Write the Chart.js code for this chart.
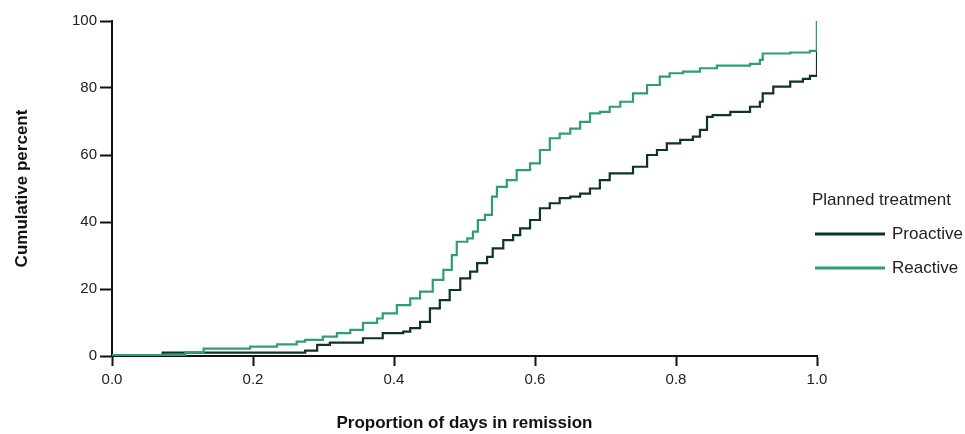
<!DOCTYPE html>
<html>
<head>
<meta charset="utf-8">
<script src="https://cdn.jsdelivr.net/npm/chart.js@4.4.1/dist/chart.umd.min.js"></script>
<style>
html, body { margin: 0; padding: 0; background: #fff; }
#wrap { width: 965px; height: 434px; position: relative; }
</style>
</head>
<body>
<div id="wrap"><canvas id="cdf_chart"></canvas></div>
<script>
// proportion of days in remission (x) vs cumulative percent (y)
const proactiveX = [0, 0.072, 0.274, 0.291, 0.309, 0.356, 0.384, 0.413, 0.423, 0.437, 0.451, 0.465, 0.479,
    0.494, 0.508, 0.518, 0.532, 0.540, 0.555, 0.569, 0.579, 0.593, 0.607, 0.621, 0.635, 0.650, 0.664,
    0.678, 0.692, 0.706, 0.739, 0.759, 0.773, 0.787, 0.806, 0.824, 0.834, 0.844, 0.852, 0.877, 0.905,
    0.919, 0.923, 0.938, 0.962, 0.980, 0.990, 1.000, 1.000];
const proactiveY = [0.3, 1.0, 1.6, 3.3, 4.0, 5.3, 6.8, 7.3, 8.3, 10.2, 14.2, 16.7, 19.7,
    23.2, 25.2, 27.7, 29.6, 32.1, 34.6, 36.1, 38.1, 40.6, 44.1, 45.6, 47.1, 47.6, 48.5,
    50.0, 52.5, 54.5, 56.5, 60.0, 61.5, 63.5, 64.5, 65.5, 67.5, 71.4, 71.9, 72.9, 74.4,
    75.9, 78.4, 80.4, 81.9, 82.7, 83.6, 83.9, 100];

const reactiveX = [0, 0.104, 0.130, 0.196, 0.234, 0.262, 0.274, 0.299, 0.319, 0.338, 0.356, 0.376, 0.384,
    0.404, 0.423, 0.437, 0.455, 0.470, 0.482, 0.489, 0.504, 0.512, 0.519, 0.529, 0.539, 0.546, 0.560,
    0.574, 0.593, 0.607, 0.621, 0.635, 0.650, 0.664, 0.678, 0.692, 0.706, 0.721, 0.739, 0.759, 0.777,
    0.791, 0.810, 0.834, 0.858, 0.905, 0.919, 0.923, 0.962, 0.990, 1.000, 1.000];
const reactiveY = [0.3, 1.1, 2.2, 2.8, 3.5, 4.3, 4.8, 5.8, 6.8, 7.8, 9.9, 11.2, 12.7,
    15.2, 17.2, 19.2, 22.7, 25.7, 30.1, 34.1, 35.1, 37.1, 40.6, 42.1, 47.6, 50.5, 52.5,
    55.5, 57.5, 61.5, 65.0, 66.4, 67.9, 69.9, 72.4, 72.9, 74.4, 75.9, 78.4, 80.9, 83.4,
    84.4, 84.9, 85.9, 86.7, 87.2, 88.4, 90.3, 90.6, 91.1, 91.5, 100];

const xTicks = [0, 0.2, 0.4, 0.6, 0.8, 1.0];
const yTicks = [0, 20, 40, 60, 80, 100];
const seriesLabels = ['Proactive', 'Reactive'];
const seriesColors = ['#0e3328', '#2f9e72'];
const legendTitle = 'Planned treatment';

const toPoints = (xs, ys) => xs.map((x, i) => ({x: x, y: ys[i]}));

const axisFont = {family: '"Liberation Sans Narrow", "Liberation Sans", Arial, sans-serif', size: 15};
const titleFont = {family: '"Liberation Sans Narrow", "Liberation Sans", Arial, sans-serif', size: 17, weight: 'bold'};

// legend drawn in the right margin, like the original figure
const sideLegend = {
    id: 'sideLegend',
    afterDraw(chart) {
        const ctx = chart.ctx;
        const left = chart.chartArea.right - 5;
        ctx.save();
        ctx.font = '17px "Liberation Sans", Arial, sans-serif';
        ctx.fillStyle = '#222';
        ctx.textBaseline = 'middle';
        ctx.fillText(legendTitle, left, 200);
        chart.data.datasets.forEach((ds, i) => {
            const y = 234 + i * 34;
            ctx.strokeStyle = ds.borderColor;
            ctx.lineWidth = 3;
            ctx.beginPath();
            ctx.moveTo(left + 3, y);
            ctx.lineTo(left + 73, y);
            ctx.stroke();
            ctx.fillText(ds.label, left + 80, y);
        });
        ctx.restore();
    }
};

const cdfChartCanvas = document.getElementById('cdf_chart');
const cdfChartConfig = {
    type: 'line',
    data: {
        datasets: [{
            label: seriesLabels[0],
            data: toPoints(proactiveX, proactiveY),
            borderColor: seriesColors[0],
            order: 2,
        }, {
            label: seriesLabels[1],
            data: toPoints(reactiveX, reactiveY),
            borderColor: seriesColors[1],
            order: 1,
        }],
    },
    options: {
        responsive: true,
        maintainAspectRatio: false,
        animation: {
            duration: 0,
        },
        layout: {
            padding: {top: 21, right: 148, bottom: 0, left: 0},
        },
        elements: {
            line: {borderWidth: 2.2, stepped: true, fill: false},
            point: {radius: 0},
        },
        plugins: {
            legend: {
                display: false,
            },
            tooltip: {
                enabled: false,
            },
        },
        scales: {
            x: {
                type: 'linear',
                min: 0,
                max: 1,
                afterBuildTicks: (s) => { s.ticks = xTicks.map(v => ({value: v})); },
                afterFit: (s) => { s.height = 78; },
                ticks: {
                    callback: (v) => Number(v).toFixed(1),
                    font: axisFont,
                    color: '#222',
                    padding: 5,
                    maxRotation: 0,
                },
                grid: {drawOnChartArea: false, drawTicks: true, tickLength: 10, tickWidth: 2, tickColor: '#111'},
                border: {display: true, color: '#111', width: 2},
                title: {
                    display: true,
                    text: 'Proportion of days in remission',
                    font: titleFont,
                    color: '#111',
                    padding: {top: 22, bottom: 0},
                },
            },
            y: {
                min: 0,
                max: 100,
                afterBuildTicks: (s) => { s.ticks = yTicks.map(v => ({value: v})); },
                afterFit: (s) => { s.width = 112; },
                ticks: {
                    font: axisFont,
                    color: '#222',
                    padding: 3,
                },
                grid: {drawOnChartArea: false, drawTicks: true, tickLength: 12, tickWidth: 2, tickColor: '#111'},
                border: {display: true, color: '#111', width: 2},
                title: {
                    display: true,
                    text: 'Cumulative percent',
                    font: titleFont,
                    color: '#111',
                    padding: {top: 12, bottom: 0},
                },
            },
        },
    },
    plugins: [sideLegend],
};
const cdfChart = new Chart(cdfChartCanvas, cdfChartConfig);
</script>
</body>
</html>
